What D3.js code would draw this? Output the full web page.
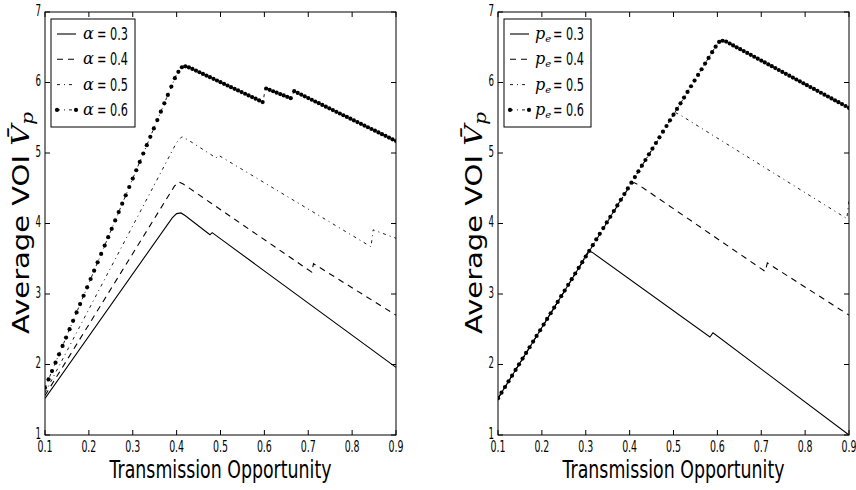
<!DOCTYPE html>
<html>
<head>
<meta charset="utf-8">
<script src="https://cdn.jsdelivr.net/npm/d3@7"></script>
<style>
  body { margin: 0; background: #fff; }
  svg { display: block; }
  text { font-family: "DejaVu Sans", sans-serif; fill: #000; }
  .math { font-family: "DejaVu Serif", serif; font-style: italic; }
</style>
</head>
<body>
<svg id="chart" width="856" height="490"></svg>
<script>
// axis ticks
const xTicks = [0.1, 0.2, 0.3, 0.4, 0.5, 0.6, 0.7, 0.8, 0.9];
const xTickLabels = ["0.1", "0.2", "0.3", "0.4", "0.5", "0.6", "0.7", "0.8", "0.9"];
const yTicks = [1, 2, 3, 4, 5, 6, 7];
const yTickLabels = ["1", "2", "3", "4", "5", "6", "7"];
const legendValues = ["0.3", "0.4", "0.5", "0.6"];

// left panel: varying alpha (breakpoints)
const alpha03X = [0.1, 0.39, 0.40, 0.41, 0.42, 0.476, 0.481, 0.9];
const alpha03Y = [1.52, 4.08, 4.14, 4.15, 4.11, 3.84, 3.87, 1.96];
const alpha04X = [0.1, 0.395, 0.405, 0.415, 0.708, 0.712, 0.9];
const alpha04Y = [1.56, 4.53, 4.59, 4.56, 3.31, 3.43, 2.70];
const alpha05X = [0.1, 0.40, 0.412, 0.425, 0.490, 0.495, 0.843, 0.848, 0.9];
const alpha05Y = [1.60, 5.15, 5.23, 5.19, 4.93, 4.97, 3.67, 3.91, 3.79];
const alpha06X = [0.1, 0.40, 0.415, 0.43, 0.597, 0.602, 0.663, 0.667, 0.9];
const alpha06Y = [1.67, 6.12, 6.24, 6.21, 5.72, 5.92, 5.77, 5.88, 5.17];

// right panel: varying p_e
const pe03X = [0.1, 0.29, 0.30, 0.307, 0.315, 0.583, 0.590, 0.9];
const pe03Y = [1.52, 3.43, 3.55, 3.61, 3.59, 2.39, 2.45, 1.00];
const pe04X = [0.1, 0.40, 0.41, 0.42, 0.709, 0.714, 0.9];
const pe04Y = [1.52, 4.53, 4.58, 4.55, 3.32, 3.44, 2.70];
const pe05X = [0.1, 0.495, 0.505, 0.515, 0.895, 0.9];
const pe05Y = [1.52, 5.49, 5.57, 5.54, 4.07, 4.32];
const pe06X = [0.1, 0.595, 0.607, 0.62, 0.9];
const pe06Y = [1.52, 6.50, 6.60, 6.58, 5.64];

const styles = [
  { dash: null, width: 1.1, markers: false },
  { dash: "6,5", width: 1.1, markers: false },
  { dash: "3,4,1,4", width: 0.9, markers: false },
  { dash: "3,4,1,4", width: 0.9, markers: true }
];

const svg = d3.select("#chart");

function condensed(sel, length) {
  return sel.attr("textLength", length).attr("lengthAdjust", "spacingAndGlyphs");
}

function drawPanel(opts) {
  const x = d3.scaleLinear().domain([0.1, 0.9]).range([opts.left, opts.right]);
  const y = d3.scaleLinear().domain([1, 7]).range([435, 12]);
  const g = svg.append("g");

  g.append("clipPath").attr("id", opts.id + "-clip")
    .append("rect")
    .attr("x", opts.left).attr("y", 12)
    .attr("width", opts.right - opts.left).attr("height", 423);

  const plot = g.append("g").attr("clip-path", `url(#${opts.id}-clip)`);
  const line = d3.line().x(d => x(d[0])).y(d => y(d[1]));

  opts.series.forEach((s, i) => {
    const st = styles[i];
    const pts = d3.zip(s.xs, s.ys);
    plot.append("path")
      .attr("d", line(pts))
      .attr("fill", "none")
      .attr("stroke", "#000")
      .attr("stroke-width", st.width)
      .attr("stroke-dasharray", st.dash);
    if (st.markers) {
      // marker at every sampled x, like the original line's markers
      const f = d3.scaleLinear().domain(s.xs).range(s.ys);
      const grid = d3.range(0.1, 0.9 + 1e-9, 0.008);
      plot.append("g").selectAll("circle")
        .data(grid)
        .join("circle")
        .attr("cx", d => x(d))
        .attr("cy", d => y(f(d)))
        .attr("r", 2.1)
        .attr("fill", "#000");
    }
  });

  // frame
  g.append("rect")
    .attr("x", opts.left).attr("y", 12)
    .attr("width", opts.right - opts.left).attr("height", 423)
    .attr("fill", "none").attr("stroke", "#000").attr("stroke-width", 1);

  // inward ticks on all sides
  const tl = 5;
  xTicks.forEach((t, i) => {
    g.append("line").attr("x1", x(t)).attr("x2", x(t)).attr("y1", 435).attr("y2", 435 - tl).attr("stroke", "#000");
    g.append("line").attr("x1", x(t)).attr("x2", x(t)).attr("y1", 12).attr("y2", 12 + tl).attr("stroke", "#000");
    g.append("text")
      .attr("x", x(t)).attr("y", 452)
      .attr("text-anchor", "middle")
      .style("font-size", "16px")
      .text(xTickLabels[i])
      .call(condensed, 15);
  });
  yTicks.forEach((t, i) => {
    g.append("line").attr("x1", opts.left).attr("x2", opts.left + tl).attr("y1", y(t)).attr("y2", y(t)).attr("stroke", "#000");
    g.append("line").attr("x1", opts.right).attr("x2", opts.right - tl).attr("y1", y(t)).attr("y2", y(t)).attr("stroke", "#000");
    g.append("text")
      .attr("x", opts.left - 4).attr("y", y(t) - 2).attr("dy", "0.36em")
      .attr("text-anchor", "end")
      .style("font-size", "16px")
      .text(yTickLabels[i])
      .call(condensed, 5.5);
  });

  // axis titles
  const midX = (opts.left + opts.right) / 2;
  g.append("text")
    .attr("x", midX).attr("y", 478)
    .attr("text-anchor", "middle")
    .style("font-size", "25px")
    .text("Transmission Opportunity")
    .call(condensed, 222);

  const yl = g.append("text")
    .attr("transform", `translate(${opts.left - 16},223) rotate(-90) scale(1,0.8)`)
    .attr("text-anchor", "middle")
    .style("font-size", "29px");
  yl.append("tspan").text("Average VOI ");
  yl.append("tspan").attr("class", "math").text("V\u0304");
  yl.append("tspan").attr("class", "math").attr("baseline-shift", "-25%").style("font-size", "20px").text("p");

  // legend
  const lg = g.append("g");
  lg.append("rect")
    .attr("x", opts.left + 6).attr("y", 19)
    .attr("width", opts.legendW).attr("height", 108)
    .attr("fill", "#fff").attr("stroke", "#000").attr("stroke-width", 1);
  legendValues.forEach((v, i) => {
    const ry = 34 + i * 25.3;
    const st = styles[i];
    const x0 = opts.left + 12, x1 = opts.left + 31;
    lg.append("line")
      .attr("x1", x0).attr("x2", x1).attr("y1", ry).attr("y2", ry)
      .attr("stroke", "#000").attr("stroke-width", st.width)
      .attr("stroke-dasharray", st.dash);
    if (st.markers) {
      [x0, x1].forEach(mx => lg.append("circle").attr("cx", mx).attr("cy", ry).attr("r", 2.1).attr("fill", "#000"));
    }
    const sym = lg.append("text")
      .attr("class", "math")
      .attr("x", opts.left + opts.symOffset).attr("y", ry + 5)
      .style("font-size", "16px");
    if (opts.symbol === "alpha") {
      sym.text("\u03b1");
    } else {
      sym.append("tspan").text("p");
      sym.append("tspan").attr("baseline-shift", "-25%").style("font-size", "10px").text("e");
    }
    lg.append("text")
      .attr("x", opts.left + opts.valOffset).attr("y", ry + 6)
      .style("font-size", "18px")
      .text("= " + v)
      .call(condensed, opts.valW);
  });
}

drawPanel({
  id: "left", left: 45, right: 396, legendW: 84, symbol: "alpha", symOffset: 38, valOffset: 52, valW: 31,
  series: [
    { xs: alpha03X, ys: alpha03Y },
    { xs: alpha04X, ys: alpha04Y },
    { xs: alpha05X, ys: alpha05Y },
    { xs: alpha06X, ys: alpha06Y }
  ]
});

drawPanel({
  id: "right", left: 498, right: 849, legendW: 87, symbol: "pe", symOffset: 37, valOffset: 55, valW: 31,
  series: [
    { xs: pe03X, ys: pe03Y },
    { xs: pe04X, ys: pe04Y },
    { xs: pe05X, ys: pe05Y },
    { xs: pe06X, ys: pe06Y }
  ]
});
</script>
</body>
</html>
